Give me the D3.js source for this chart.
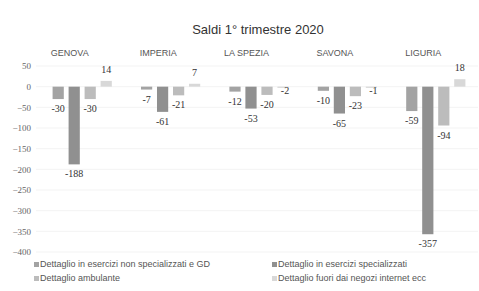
<!DOCTYPE html>
<html><head><meta charset="utf-8">
<script src="https://cdn.jsdelivr.net/npm/d3@7"></script>
<style>body{margin:0;background:#fff;} svg{display:block;}</style>
</head><body>
<svg id="chart" width="479" height="291"></svg>
<script>
const categories = ["GENOVA", "IMPERIA", "LA SPEZIA", "SAVONA", "LIGURIA"];
const seriesNames = [
  "Dettaglio in esercizi non specializzati e GD",
  "Dettaglio in esercizi specializzati",
  "Dettaglio ambulante",
  "Dettaglio fuori dai negozi internet ecc"
];
const nonSpecializzati = [-30, -7, -12, -10, -59];
const specializzati = [-188, -61, -53, -65, -357];
const ambulante = [-30, -21, -20, -23, -94];
const fuoriNegozi = [14, 7, -2, -1, 18];
const yTicks = [50, 0, -50, -100, -150, -200, -250, -300, -350, -400];
const seriesColors = ["#a3a3a3", "#909090", "#bcbcbc", "#d8d8d8"];

const seriesValues = [nonSpecializzati, specializzati, ambulante, fuoriNegozi];
const svg = d3.select("#chart");

const x0 = d3.scaleBand().domain(categories).range([38, 480]).paddingInner(0.33).paddingOuter(0.165);
const x1 = d3.scaleBand().domain(d3.range(seriesNames.length)).range([0, x0.bandwidth()]).paddingInner(0.3);
const y = d3.scaleLinear().domain([-400, 50]).range([252, 66]);

// gridlines
svg.append("g").selectAll("line").data(yTicks).join("line")
  .attr("x1", 36).attr("x2", 478)
  .attr("y1", d => y(d)).attr("y2", d => y(d))
  .attr("stroke", "#f3f3f3").attr("stroke-width", 1);

// y axis
const yAxis = d3.axisLeft(y).tickValues(yTicks).tickSize(0).tickPadding(0);
const yg = svg.append("g").attr("transform", "translate(31,0)").call(yAxis);
yg.select(".domain").remove();
yg.selectAll("text").attr("fill", "#666").style("font-family", "Liberation Serif, serif").style("font-size", "9px");

// title
svg.append("text").attr("x", 258).attr("y", 34).attr("text-anchor", "middle")
  .style("font-family", "Liberation Sans, Arial, sans-serif").style("font-size", "13px")
  .attr("fill", "#333").text("Saldi 1° trimestre 2020");

// category labels at top
svg.append("g").selectAll("text").data(categories).join("text")
  .attr("x", d => x0(d) + x0.bandwidth() * 0.29)
  .attr("y", 56).attr("text-anchor", "middle")
  .style("font-family", "Liberation Sans Narrow, Arial Narrow, sans-serif").style("font-size", "9px")
  .attr("fill", "#555").text(d => d);

// bars
const rows = [];
categories.forEach((c, ci) => seriesValues.forEach((vals, si) => rows.push({c, si, v: vals[ci]})));

svg.append("g").selectAll("rect").data(rows).join("rect")
  .attr("x", d => x0(d.c) + x1(d.si))
  .attr("width", x1.bandwidth())
  .attr("y", d => Math.min(y(d.v), y(0)))
  .attr("height", d => Math.max(1.2, Math.abs(y(d.v) - y(0))))
  .attr("fill", d => seriesColors[d.si]);

// data labels
svg.append("g").selectAll("text").data(rows).join("text")
  .attr("x", d => x0(d.c) + x1(d.si) + x1.bandwidth() / 2 + (Math.abs(d.v) < 5 && d.v < 0 ? 2 : 0))
  .attr("y", d => {
    if (d.v >= 0) return y(d.v) - 8;
    if (Math.abs(d.v) < 5) return y(0) + 7;
    return y(d.v) + 13;
  })
  .attr("text-anchor", "middle")
  .style("font-family", "Liberation Serif, serif").style("font-size", "10px")
  .attr("fill", "#333").text(d => d.v);

// legend
const legendPos = [[34, 267], [272, 267], [34, 281], [272, 281]];
const lg = svg.append("g").selectAll("g").data(seriesNames).join("g")
  .attr("transform", (d, i) => `translate(${legendPos[i][0]},${legendPos[i][1]})`);
lg.append("rect").attr("x", 0).attr("y", -5).attr("width", 5).attr("height", 5)
  .attr("fill", (d, i) => seriesColors[i]);
lg.append("text").attr("x", 6).attr("y", 0)
  .style("font-family", "Liberation Sans, Arial, sans-serif").style("font-size", "9px")
  .attr("fill", "#555").text(d => d);
</script>
</body></html>
